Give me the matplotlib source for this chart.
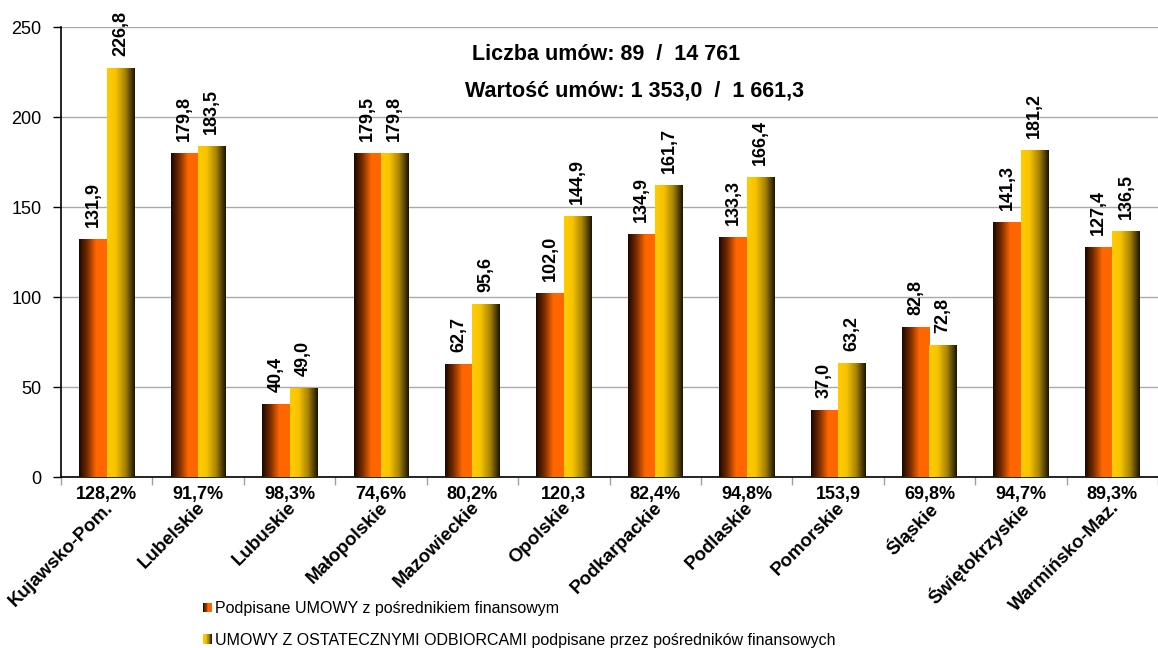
import numpy as np
import matplotlib
matplotlib.use('Agg')
import matplotlib.pyplot as plt
from matplotlib.colors import LinearSegmentedColormap
from matplotlib.patches import Rectangle, Patch
from matplotlib.legend_handler import HandlerBase
import matplotlib.transforms as mtransforms

plt.rcParams['font.family'] = ['Liberation Sans', 'DejaVu Sans']

# Data
regions = ['Kujawsko-Pom.', 'Lubelskie', 'Lubuskie', 'Małopolskie', 'Mazowieckie',
           'Opolskie', 'Podkarpackie', 'Podlaskie', 'Pomorskie', 'Śląskie',
           'Świętokrzyskie', 'Warmińsko-Maz.']
umowy_posr = [131.9, 179.8, 40.4, 179.5, 62.7, 102.0, 134.9, 133.3, 37.0, 82.8, 141.3, 127.4]
umowy_odb = [226.8, 183.5, 49.0, 179.8, 95.6, 144.9, 161.7, 166.4, 63.2, 72.8, 181.2, 136.5]
ratio_labels = ['128,2%', '91,7%', '98,3%', '74,6%', '80,2%', '120,3', '82,4%',
                '94,8%', '153,9', '69,8%', '94,7%', '89,3%']
series_names = ['Podpisane UMOWY z pośrednikiem finansowym',
                'UMOWY Z OSTATECZNYMI ODBIORCAMI podpisane przez pośredników finansowych']
info_lines = ['Liczba umów: 89  /  14 761', 'Wartość umów: 1 353,0  /  1 661,3']

# gradient colour maps (left -> right across each bar)
cmap_orange = LinearSegmentedColormap.from_list(
    'orn', [(0, '#1a0800'), (0.3, '#7a2c00'), (0.62, '#ff6600'), (1, '#ff6600')])
cmap_yellow = LinearSegmentedColormap.from_list(
    'yel', [(0, '#ffcc00'), (0.3, '#f8c400'), (0.65, '#a88400'), (1, '#1c1400')])


class GradHandler(HandlerBase):
    def __init__(self, cmap, n=12):
        super().__init__()
        self.cmap = cmap
        self.n = n

    def create_artists(self, legend, orig_handle, xdescent, ydescent,
                       width, height, fontsize, trans):
        w = width / self.n
        arts = []
        for k in range(self.n):
            arts.append(Rectangle((-xdescent + k * w, -ydescent), w * 1.05, height,
                                  facecolor=self.cmap((k + 0.5) / self.n),
                                  edgecolor='none', transform=trans))
        return arts


def fmt(v):
    return f'{v:.1f}'.replace('.', ',')


fig = plt.figure(figsize=(11.58, 6.48), dpi=100)
ax = fig.add_axes([61 / 1158, 1 - 477 / 648, 1 - 61 / 1158, 450 / 648])

x = np.arange(len(regions))
bw = 0.3
bars1 = ax.bar(x - bw / 2, umowy_posr, bw, color='none', zorder=2)
bars2 = ax.bar(x + bw / 2, umowy_odb, bw, color='none', zorder=2)

grad = np.linspace(0, 1, 64).reshape(1, -1)
for bars, cmap, vals in [(bars1, cmap_orange, umowy_posr), (bars2, cmap_yellow, umowy_odb)]:
    for b, v in zip(bars, vals):
        x0 = b.get_x()
        ax.imshow(grad, extent=(x0, x0 + b.get_width(), 0, b.get_height()),
                  cmap=cmap, aspect='auto', zorder=3, interpolation='bilinear')
        ax.annotate(fmt(v), (x0 + b.get_width() / 2, b.get_height()),
                    xytext=(0, 9), textcoords='offset points', rotation=90,
                    ha='center', va='bottom', fontsize=13, fontweight='bold')

ax.set_xlim(-0.5, len(regions) - 0.5)
ax.set_ylim(0, 250)
ax.set_yticks(np.arange(0, 251, 50))
ax.yaxis.grid(True, color='#aaaaaa', linewidth=1)
ax.set_axisbelow(True)
ax.tick_params(axis='y', labelsize=13, length=6, width=1, pad=8)
ax.set_xticks(np.arange(-0.5, len(regions)), minor=False)
ax.set_xticklabels([])
ax.tick_params(axis='x', length=6, color='#a0a0a0', width=1)
for s in ['top', 'right']:
    ax.spines[s].set_visible(False)
ax.spines['left'].set_linewidth(1.2)
ax.spines['bottom'].set_linewidth(1.2)

trans = mtransforms.blended_transform_factory(ax.transData, ax.transAxes)
for i in range(len(regions)):
    ax.text(i, -0.038, ratio_labels[i], transform=trans, ha='center', va='center',
            fontsize=13, fontweight='bold')
    ax.text(i - 0.02, -0.049, regions[i], transform=trans, ha='right', va='top',
            rotation=45, rotation_mode='anchor', fontsize=13.5, fontweight='bold')

fig.text(472 / 1158, 1 - 54 / 648, info_lines[0], ha='left', va='center',
         fontsize=15.5, fontweight='bold')
fig.text(465 / 1158, 1 - 91 / 648, info_lines[1], ha='left', va='center',
         fontsize=15.5, fontweight='bold')

p1, p2 = Patch(), Patch()
fig.legend([p1, p2], series_names, loc='upper left',
           bbox_to_anchor=(203 / 1158, 1 - 601 / 648), frameon=False,
           fontsize=11.5, handlelength=0.55, handleheight=0.55, handletextpad=0.2,
           labelspacing=1.05, borderpad=0, borderaxespad=0,
           handler_map={p1: GradHandler(cmap_orange), p2: GradHandler(cmap_yellow)})

fig.savefig('out.png', dpi=100)
